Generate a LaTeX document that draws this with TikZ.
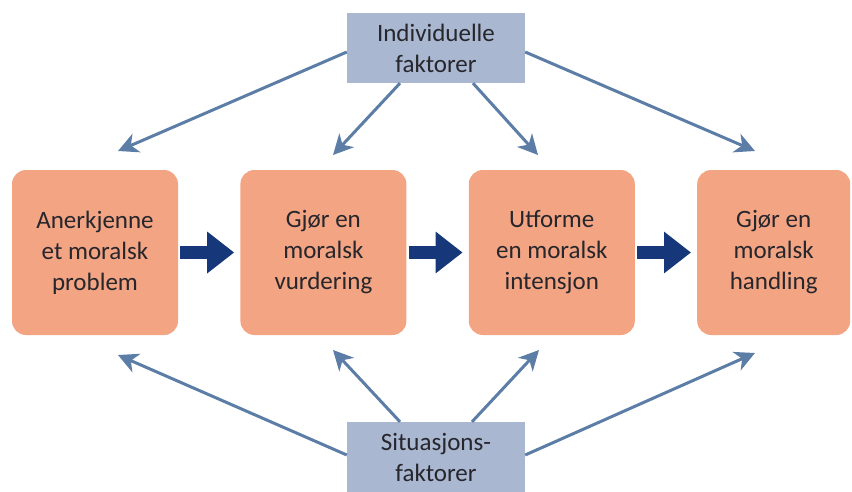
\documentclass[tikz,border=0pt]{standalone}
\usepackage{fontspec}
\setmainfont{Carlito}
\usetikzlibrary{arrows.meta, positioning}
\definecolor{stageFill}{RGB}{243,164,131}
\definecolor{factorFill}{RGB}{169,183,208}
\definecolor{flowBlue}{RGB}{22,56,122}
\definecolor{linkBlue}{RGB}{92,126,166}
\definecolor{labelInk}{RGB}{38,38,44}

\begin{document}
\begin{tikzpicture}[
    x=1pt, y=-1pt,
    node distance=62pt,
    stage/.style={fill=stageFill, rounded corners=14pt, minimum width=166pt, minimum height=165pt, inner sep=0pt, align=center, text=labelInk, font=\fontsize{25}{31}\selectfont},
    factor/.style={fill=factorFill, minimum width=178pt, minimum height=70pt, inner sep=0pt, align=center, text=labelInk, font=\fontsize{25}{31}\selectfont},
    flow/.style={-{Triangle[length=27pt, width=40pt]}, line width=13pt, draw=flowBlue, shorten <=2pt, shorten >=6pt},
    link/.style={-{Stealth[length=20pt, width=20pt, inset=6pt]}, line width=3pt, draw=linkBlue}
]
    \useasboundingbox (0,0) rectangle (852,491);

    \node[stage] (recognise) at (95,252.5) {Anerkjenne\\et moralsk\\problem};
    \node[stage, right=of recognise] (judge) {Gjør en\\moralsk\\vurdering};
    \node[stage, right=of judge] (intend) {Utforme\\en moralsk\\intensjon};
    \node[stage, right=of intend, minimum width=153pt] (act) {Gjør en\\moralsk\\handling};

    \node[factor] (individual) at (436,48) {Individuelle\\faktorer};
    \node[factor] (situation) at (436,457) {Situasjons-\\faktorer};

    \draw[flow] (recognise) -- (judge);
    \draw[flow] (judge) -- (intend);
    \draw[flow] (intend) -- (act);

    % arrow tips above and below the stages
    \coordinate (i1) at (118,151);
    \coordinate (i2) at (333,155);
    \coordinate (i3) at (538,155);
    \coordinate (i4) at (755,151);
    \coordinate (s1) at (118,355);
    \coordinate (s2) at (333,350);
    \coordinate (s3) at (539,350);
    \coordinate (s4) at (755,353);

    \draw[link] ([yshift=-4pt]individual.west) -- (i1);
    \draw[link] ([xshift=-36pt]individual.south) -- (i2);
    \draw[link] ([xshift=37pt]individual.south) -- (i3);
    \draw[link] ([yshift=-4pt]individual.east) -- (i4);
    \draw[link] ([yshift=2pt]situation.west) -- (s1);
    \draw[link] ([xshift=-36pt]situation.north) -- (s2);
    \draw[link] ([xshift=36pt]situation.north) -- (s3);
    \draw[link] ([yshift=2pt]situation.east) -- (s4);
\end{tikzpicture}
\end{document}
